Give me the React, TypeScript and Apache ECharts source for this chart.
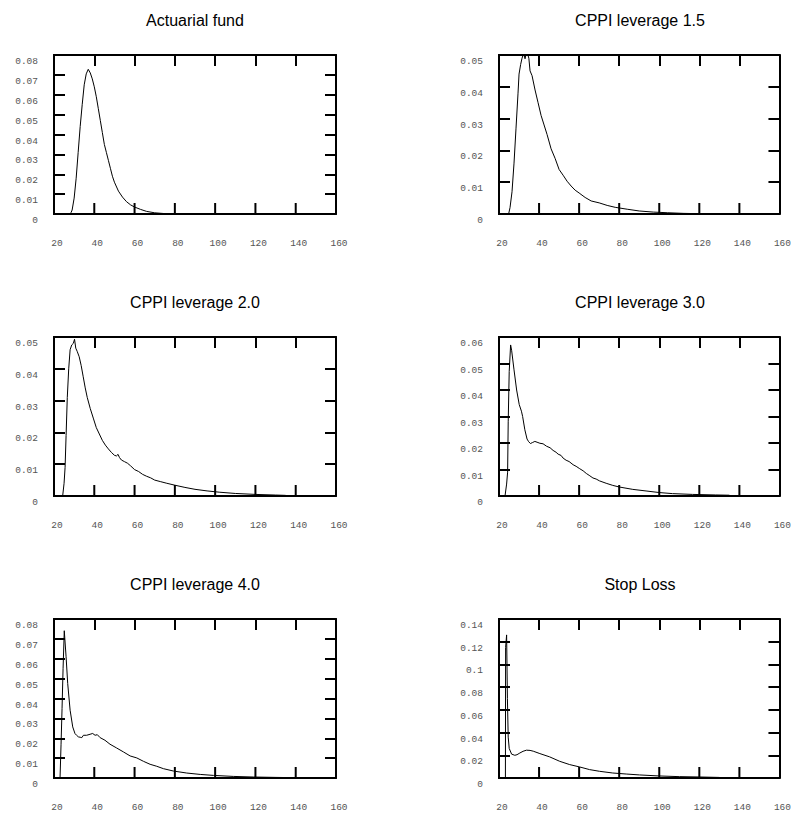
import React, { useEffect, useRef } from "react";
import * as echarts from "echarts";

const titles = ["Actuarial fund", "CPPI leverage 1.5", "CPPI leverage 2.0", "CPPI leverage 3.0", "CPPI leverage 4.0", "Stop Loss"];
const yMaxes = [0.08, 0.05, 0.05, 0.06, 0.08, 0.14];
const yIntervals = [0.01, 0.01, 0.01, 0.01, 0.01, 0.02];
const xTicks = [20, 40, 60, 80, 100, 120, 140, 160];

const actuarialX = [27.8, 28.5, 29, 30, 31, 32, 33, 34, 35, 36, 37, 38, 39, 40, 41, 42, 43, 44, 45, 46, 47, 48, 49, 50, 52, 54, 56, 58, 60, 63, 66, 70, 75, 80, 90];
const actuarialY = [0, 0.0008, 0.002, 0.008, 0.018, 0.031, 0.044, 0.055, 0.065, 0.0705, 0.0728, 0.071, 0.068, 0.064, 0.059, 0.053, 0.047, 0.041, 0.035, 0.031, 0.027, 0.023, 0.019, 0.016, 0.0115, 0.0085, 0.0062, 0.0046, 0.0035, 0.0023, 0.0013, 0.0006, 0.0002, 0.0001, 0];

const cppi15X = [24.8, 25.5, 26.5, 27.5, 28.5, 29.5, 30, 30.8, 31.5, 32.3, 33, 33.6, 34.3, 34.9, 35.5, 36.5, 38, 39.5, 41, 42.5, 44, 46, 48, 50, 52, 54, 56, 58, 60, 63, 66, 70, 74, 78, 84, 90, 97, 104, 112, 120, 130];
const cppi15Y = [0, 0.002, 0.007, 0.016, 0.027, 0.038, 0.044, 0.047, 0.049, 0.0505, 0.0488, 0.0505, 0.0503, 0.049, 0.045, 0.0435, 0.039, 0.035, 0.031, 0.028, 0.025, 0.0205, 0.0175, 0.014, 0.0122, 0.0103, 0.0088, 0.0075, 0.0066, 0.0052, 0.0041, 0.0035, 0.0027, 0.0021, 0.0015, 0.00095, 0.0006, 0.0004, 0.0002, 0.0001, 0];

const cppi20X = [24.3, 25, 25.5, 26, 26.6, 27.3, 28, 28.8, 29.6, 30.2, 30.8, 31.5, 32.5, 33.5, 34.5, 35.5, 36.5, 38, 39.5, 41, 42.5, 44, 45.5, 47, 48.5, 50, 51, 51.8, 52.5, 53.5, 55, 56.5, 58, 60, 62, 64, 66, 68, 70, 73, 76, 80, 85, 90, 96, 102, 110, 120, 130, 135];
const cppi20Y = [0, 0.004, 0.009, 0.019, 0.031, 0.04, 0.046, 0.0475, 0.048, 0.0493, 0.0465, 0.0455, 0.0438, 0.041, 0.0375, 0.034, 0.031, 0.0275, 0.0245, 0.0215, 0.0195, 0.0175, 0.016, 0.0148, 0.0137, 0.0128, 0.0126, 0.0131, 0.0121, 0.0113, 0.0108, 0.0103, 0.0095, 0.0083, 0.0077, 0.0068, 0.0062, 0.0057, 0.005, 0.0045, 0.004, 0.0034, 0.0027, 0.0021, 0.0016, 0.0012, 0.0008, 0.0005, 0.0003, 0.0002];

const cppi30X = [23, 23.8, 24.3, 24.6, 25.1, 25.8, 26.3, 27.5, 28.8, 30.1, 31.2, 31.8, 32.9, 34, 34.8, 35.7, 36.8, 37.9, 39, 40.4, 42, 43.7, 45.5, 47, 48.5, 49.5, 51, 52, 53.5, 55, 57, 58.5, 60.3, 62, 63.6, 65, 66.9, 68.5, 70.2, 73.5, 76.8, 80, 86.8, 93.4, 100, 106.6, 116.6, 128, 135];
const cppi30Y = [0, 0.0045, 0.009, 0.028, 0.047, 0.057, 0.055, 0.0476, 0.04, 0.0345, 0.032, 0.03, 0.025, 0.0215, 0.0205, 0.0198, 0.0202, 0.0206, 0.0203, 0.0199, 0.0197, 0.0188, 0.0182, 0.0172, 0.0165, 0.0158, 0.0153, 0.0143, 0.0135, 0.013, 0.0118, 0.0112, 0.0103, 0.0095, 0.0085, 0.0078, 0.0068, 0.0064, 0.0057, 0.0048, 0.004, 0.0034, 0.0025, 0.0019, 0.0013, 0.0009, 0.0006, 0.0004, 0.0003];

const cppi40X = [23, 23.5, 24, 24.5, 25.1, 26, 26.8, 28, 29.3, 30.4, 31.2, 32.1, 33, 33.8, 34.6, 36.2, 37.9, 39.2, 40.4, 41.5, 42.9, 45.3, 47.8, 51.1, 54.5, 57.8, 61.1, 64.4, 67.7, 71, 74.3, 79.3, 85.9, 92.6, 99.2, 109, 119, 130, 137];
const cppi40Y = [0, 0.017, 0.035, 0.055, 0.0741, 0.061, 0.0476, 0.0341, 0.0257, 0.0224, 0.0215, 0.0207, 0.0205, 0.0203, 0.0215, 0.0215, 0.022, 0.0224, 0.0215, 0.0218, 0.0203, 0.019, 0.017, 0.0151, 0.0131, 0.0111, 0.0101, 0.0084, 0.0069, 0.0059, 0.0047, 0.0035, 0.0025, 0.0018, 0.0013, 0.0008, 0.0005, 0.0003, 0.0002];

const stopLossX = [23.2, 23.3, 23.8, 24.2, 24.6, 25.1, 26.3, 27.9, 29, 30.4, 32, 33.7, 35.5, 37.1, 40.4, 45.3, 50.3, 55.3, 60.3, 65.2, 70.2, 76.8, 83.5, 90.1, 100, 110, 120, 130];
const stopLossY = [0, 0.115, 0.126, 0.07, 0.036, 0.026, 0.021, 0.02, 0.0205, 0.022, 0.0235, 0.0245, 0.0243, 0.0236, 0.0215, 0.0186, 0.0147, 0.0118, 0.0097, 0.0074, 0.0059, 0.0044, 0.0035, 0.0027, 0.0018, 0.0012, 0.0009, 0.0005];

const seriesX = [actuarialX, cppi15X, cppi20X, cppi30X, cppi40X, stopLossX];
const seriesY = [actuarialY, cppi15Y, cppi20Y, cppi30Y, cppi40Y, stopLossY];

const colLefts = [54, 499];
const rowTops = [55, 337, 619];
const plotW = 282;
const plotH = 159;

export default function App() {
  const ref = useRef<HTMLDivElement>(null);
  useEffect(() => {
    if (!ref.current) return;
    const chart = echarts.init(ref.current, undefined, { renderer: "svg" });
    const grids: any[] = [];
    const xAxes: any[] = [];
    const yAxes: any[] = [];
    const series: any[] = [];
    const graphics: any[] = [];
    const labelFont = { fontFamily: "Liberation Mono", fontSize: 9.5, color: "#555" };
    const lineStyle = { color: "#000", width: 2 };
    for (let i = 0; i < 6; i++) {
      const col = i % 2;
      const row = Math.floor(i / 2);
      const left = colLefts[col];
      const top = rowTops[row];
      grids.push({ left, top, width: plotW, height: plotH, containLabel: false });
      const xBase = () => ({
        type: "value", gridIndex: i, min: xTicks[0], max: xTicks[xTicks.length - 1], interval: 20,
        splitLine: { show: false },
        axisLine: { show: true, onZero: false, lineStyle: { ...lineStyle } },
        axisTick: { show: true, inside: true, length: 11, lineStyle: { ...lineStyle } },
      });
      xAxes.push({
        ...xBase(), position: "bottom",
        axisTick: { show: false },
        axisLabel: { show: true, margin: 24, padding: [0, 0, 0, 6], ...labelFont },
      });
      xAxes.push({ ...xBase(), position: "top", z: 5, axisLabel: { show: false } });
      const yBase = () => ({
        type: "value", gridIndex: i, min: 0, max: yMaxes[i], interval: yIntervals[i],
        splitLine: { show: false },
        axisLine: { show: true, onZero: false, lineStyle: { ...lineStyle } },
        axisTick: { show: true, inside: true, length: 11, lineStyle: { ...lineStyle } },
      });
      yAxes.push({
        ...yBase(), position: "left",
        axisTick: { show: false },
        axisLabel: {
          show: true, margin: 16, verticalAlign: "top", lineHeight: 13, ...labelFont,
          formatter: (v: number) => String(parseFloat(v.toFixed(4))),
        },
      });
      yAxes.push({ ...yBase(), position: "right", z: 5, axisLabel: { show: false } });
      yAxes.push({ ...yBase(), position: "left", offset: 0, z: 5, axisLabel: { show: false } });
      series.push({
        type: "line", xAxisIndex: 2 * i, yAxisIndex: 3 * i,
        data: seriesX[i].map((x, k) => [x, seriesY[i][k]]),
        showSymbol: false, symbol: "none",
        lineStyle: { color: "#000", width: 1 },
      });
      // bottom inward ticks, placed through the axis scales
      series.push({
        type: "custom", xAxisIndex: 2 * i, yAxisIndex: 3 * i, z: 5, silent: true, clip: false,
        data: xTicks.slice(1, -1).map((v) => [v, 0]),
        renderItem: (_p: any, api: any) => {
          const pt = api.coord([api.value(0), api.value(1)]);
          return {
            type: "line",
            shape: { x1: pt[0], y1: pt[1], x2: pt[0], y2: pt[1] - 11 },
            style: { stroke: "#000", lineWidth: 2 },
          };
        },
      });
      graphics.push({
        type: "text",
        x: left + plotW / 2,
        y: top - 35,
        style: {
          text: titles[i], align: "center", verticalAlign: "middle",
          fontFamily: "Liberation Sans", fontSize: 16, fill: "#000",
        },
      });
    }
    chart.setOption({
      animation: false,
      backgroundColor: "#fff",
      grid: grids,
      xAxis: xAxes,
      yAxis: yAxes,
      series,
      graphic: graphics,
    });
    return () => chart.dispose();
  }, []);
  return <div ref={ref} style={{ position: "absolute", left: 0, top: 0, width: 794, height: 819 }} />;
}
